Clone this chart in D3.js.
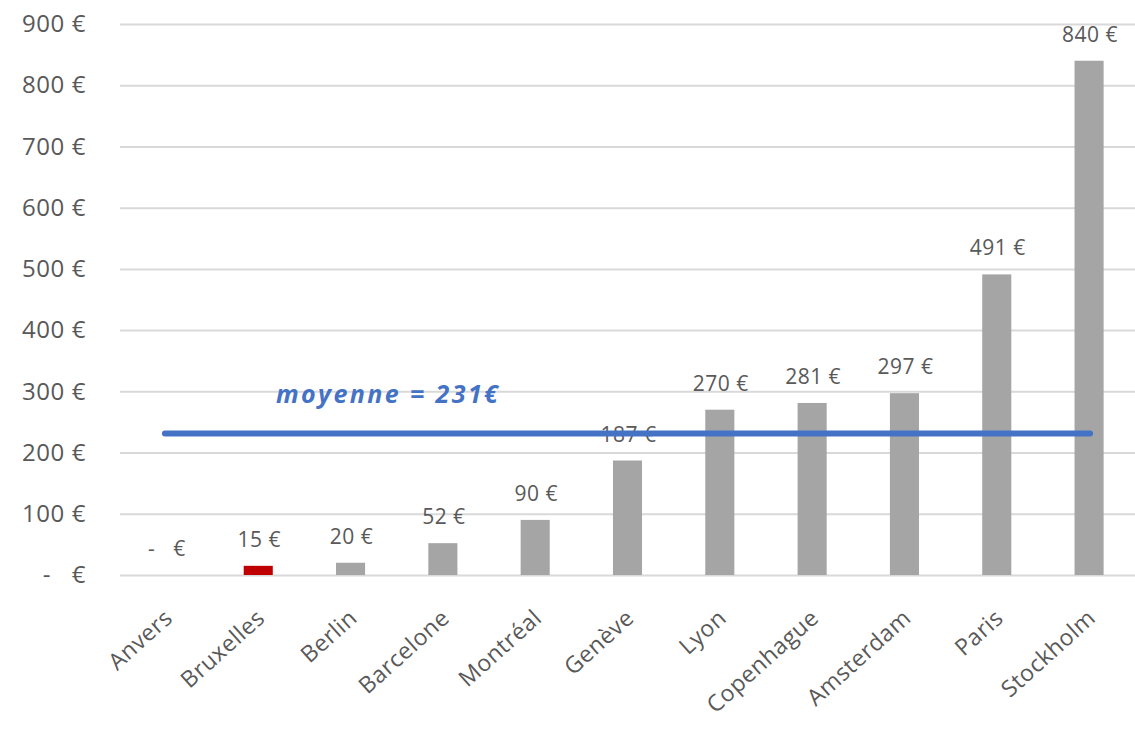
<!DOCTYPE html>
<html>
<head>
<meta charset="utf-8">
<script src="https://cdn.jsdelivr.net/npm/d3@7"></script>
<style>
  body { margin: 0; background: #fff; }
  text { font-family: "Open Sans", sans-serif; fill: #595959; }
</style>
</head>
<body>
<div class="graph"></div>
<script>
let cities = ['Anvers', 'Bruxelles', 'Berlin', 'Barcelone', 'Montréal', 'Genève', 'Lyon', 'Copenhague', 'Amsterdam', 'Paris', 'Stockholm']
let prices = [0, 15, 20, 52, 90, 187, 270, 281, 297, 491, 840]
let yTicks = [0, 100, 200, 300, 400, 500, 600, 700, 800, 900]
let highlight = 'Bruxelles'

let width = 1135,
    height = 729

let mean = d3.mean(prices)

let x = d3.scaleBand().domain(cities).range([120, 1135]).paddingInner(0.685).paddingOuter(0.34)
let y = d3.scaleLinear().domain([0, 900]).range([575, 24])

function euro(v) {
    return v === 0 ? '-   €' : v + ' €'
}

let svg = d3.select('.graph').append('svg')
    .attr('width', width)
    .attr('height', height)

// grid lines + y labels
let yAxis = svg.append('g')
    .attr('transform', 'translate(120,0)')
    .call(d3.axisLeft(y).tickValues(yTicks).tickSize(-(width - 120)).tickPadding(34).tickFormat(euro))
yAxis.select('.domain').remove()
yAxis.selectAll('line').attr('stroke', '#d9d9d9').attr('stroke-width', 2)
yAxis.selectAll('text')
    .attr('font-size', 24)
    .attr('letter-spacing', 0.6)
    .attr('fill', '#595959')
    .style('white-space', 'pre')
    .attr('font-family', '"Open Sans", sans-serif')

// bars
svg.append('g').selectAll('rect')
    .data(prices)
    .join('rect')
    .attr('x', (d, i) => x(cities[i]))
    .attr('y', d => y(d))
    .attr('width', x.bandwidth())
    .attr('height', d => y(0) - y(d))
    .attr('fill', (d, i) => cities[i] === highlight ? '#c00000' : '#a5a5a5')

// value labels
svg.append('g').selectAll('text')
    .data(prices)
    .join('text')
    .attr('x', (d, i) => x(cities[i]) + x.bandwidth() / 2 + 1)
    .attr('y', d => y(d) - 19)
    .attr('text-anchor', 'middle')
    .attr('font-size', 21)
    .attr('letter-spacing', 0.5)
    .style('white-space', 'pre')
    .text(d => d === 0 ? '-   €' : d + ' €')

// category labels
svg.append('g').selectAll('text')
    .data(cities)
    .join('text')
    .attr('text-anchor', 'end')
    .attr('font-size', 23)
    .attr('letter-spacing', 0.5)
    .attr('transform', d => 'translate(' + (x(d) + x.bandwidth() / 2 + 8) + ',620) rotate(-42)')
    .text(d => d)

// average line
let first = cities[0], last = cities[cities.length - 1]
svg.append('line')
    .attr('x1', x(first) + x.bandwidth() / 2 - 1)
    .attr('x2', x(last) + x.bandwidth() / 2 + 1)
    .attr('y1', y(mean))
    .attr('y2', y(mean))
    .attr('stroke', '#4472c4')
    .attr('stroke-width', 6)
    .attr('stroke-linecap', 'round')

svg.append('text')
    .attr('x', 276)
    .attr('y', 403)
    .attr('font-size', 25)
    .attr('letter-spacing', 2.4)
    .attr('font-weight', 'bold')
    .attr('font-style', 'italic')
    .style('fill', '#4472c4')
    .text('moyenne = ' + Math.round(mean) + '€')
</script>
</body>
</html>
